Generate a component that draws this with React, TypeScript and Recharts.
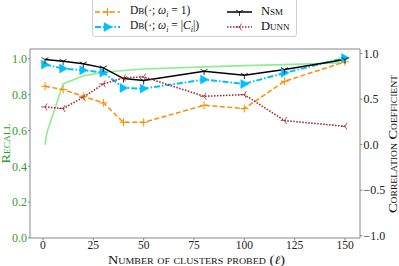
import React from 'react';
import { LineChart, Line, XAxis, YAxis, ReferenceLine } from 'recharts';

const probes = [1, 10, 20, 30, 40, 50, 80, 100, 120, 150];
const recallX = [1, 2, 10, 20, 30, 40, 50, 80, 100, 120, 150];
const recallVals = [0.52, 0.59, 0.86, 0.905, 0.925, 0.935, 0.943, 0.955, 0.962, 0.968, 0.978];
const dbOneVals = [0.641, 0.604, 0.531, 0.458, 0.245, 0.245, 0.432, 0.396, 0.696, 0.909];
const dbSizeVals = [0.879, 0.835, 0.817, 0.791, 0.623, 0.615, 0.714, 0.667, 0.788, 0.952];
const nsmVals = [0.934, 0.915, 0.887, 0.843, 0.725, 0.703, 0.806, 0.762, 0.824, 0.934];
const dunnVals = [0.414, 0.396, 0.52, 0.667, 0.733, 0.744, 0.531, 0.549, 0.264, 0.201];
const xTicks = [0, 25, 50, 75, 100, 125, 150];
const leftTicks = [0, 0.2, 0.4, 0.6, 0.8, 1.0];
const rightTicks = [-1, -0.5, 0, 0.5, 1];

const recallData = recallX.map((x, i) => ({ x, v: recallVals[i] }));
const mk = (vals: number[]) => probes.map((x, i) => ({ x, v: vals[i] }));
const dbOneData = mk(dbOneVals);
const dbSizeData = mk(dbSizeVals);
const nsmData = mk(nsmVals);
const dunnData = mk(dunnVals);

const ORANGE = '#ff8c00';
const BLUE = '#00bfff';
const DUNN = '#a0282a';
const GREEN_LINE = '#90ee90';
const GREEN_TEXT = '#2ca02c';
const SPINE = '#888888';
const FONT = '"Liberation Serif", "DejaVu Serif", serif';

const PlusM = ({ cx, cy, c }: any) => (
  <g stroke={c} strokeWidth={1}>
    <line x1={cx - 4} y1={cy} x2={cx + 4} y2={cy} />
    <line x1={cx} y1={cy - 4} x2={cx} y2={cy + 4} />
  </g>
);
const TriRight = ({ cx, cy, c }: any) => (
  <polygon points={`${cx + 4.5},${cy} ${cx - 3.5},${cy - 4.5} ${cx - 3.5},${cy + 4.5}`} fill={c} stroke={c} strokeWidth={0.5} />
);
const TriDown = ({ cx, cy, c }: any) => (
  <g stroke={c} strokeWidth={0.8}>
    <line x1={cx} y1={cy} x2={cx} y2={cy + 4} />
    <line x1={cx} y1={cy} x2={cx - 3.5} y2={cy - 2} />
    <line x1={cx} y1={cy} x2={cx + 3.5} y2={cy - 2} />
  </g>
);
const TriLeft = ({ cx, cy, c }: any) => (
  <g stroke={c} strokeWidth={0.8}>
    <line x1={cx} y1={cy} x2={cx - 4} y2={cy} />
    <line x1={cx} y1={cy} x2={cx + 2} y2={cy - 3.5} />
    <line x1={cx} y1={cy} x2={cx + 2} y2={cy + 3.5} />
  </g>
);

const fmt = (v: number) => (v < 0 ? '\u2212' + Math.abs(v).toFixed(1) : v.toFixed(1));

const tickStyle = { fontFamily: FONT, fontSize: 12 };

const Db = ({ sub }: { sub: React.ReactNode }) => (
  <span>
    D<span style={{ fontSize: 9 }}>B</span>(·; <i>ω</i>
    <sub style={{ fontSize: 8, fontStyle: 'italic' }}>i</sub> = {sub})
  </span>
);

const LegendSample = ({ kind }: { kind: string }) => {
  const w = 25;
  const y = 7;
  if (kind === 'one')
    return (
      <svg width={w} height={14}>
        <line x1={0} y1={y} x2={w} y2={y} stroke={ORANGE} strokeWidth={1.5} strokeDasharray="5,2.5" />
        <PlusM cx={w / 2} cy={y} c={ORANGE} />
      </svg>
    );
  if (kind === 'size')
    return (
      <svg width={w} height={14}>
        <line x1={0} y1={y} x2={w} y2={y} stroke={BLUE} strokeWidth={2} strokeDasharray="6,2,1.5,2" />
        <TriRight cx={w / 2} cy={y} c={BLUE} />
      </svg>
    );
  if (kind === 'nsm')
    return (
      <svg width={w} height={14}>
        <line x1={0} y1={y} x2={w} y2={y} stroke="#000" strokeWidth={1.5} />
        <TriDown cx={w / 2} cy={y} c="#000" />
      </svg>
    );
  return (
    <svg width={w} height={14}>
      <line x1={0} y1={y} x2={w} y2={y} stroke={DUNN} strokeWidth={1.5} strokeDasharray="1.5,1.5" />
      <TriLeft cx={w / 2} cy={y} c={DUNN} />
    </svg>
  );
};

export default function App() {
  return (
    <div style={{ position: 'absolute', left: 0, top: 0, width: 399, height: 266, background: '#fff', overflow: 'hidden' }}>
      <LineChart width={399} height={266} data={nsmData} margin={{ top: 49, right: 0, bottom: 0, left: 0 }}>
        <XAxis
          dataKey="x"
          type="number"
          domain={[-6.45, 157.45]}
          ticks={xTicks}
          allowDataOverflow
          height={28}
          tickSize={2.5}
          tickMargin={0.5}
          stroke={SPINE}
          tick={{ ...tickStyle, fontSize: 11.5, fill: '#222' }}
        />
        <YAxis
          yAxisId="left"
          orientation="left"
          domain={[0, 1.055]}
          ticks={leftTicks}
          allowDataOverflow
          width={30}
          tickSize={2}
          tickMargin={1}
          tickFormatter={fmt}
          stroke={SPINE}
          tick={{ ...tickStyle, fill: GREEN_TEXT }}
        />
        <YAxis
          yAxisId="right"
          orientation="right"
          domain={[-1.025, 1.05]}
          ticks={rightTicks}
          allowDataOverflow
          width={39}
          tickSize={2.5}
          tickMargin={1}
          tickFormatter={fmt}
          stroke={SPINE}
          tick={{ ...tickStyle, fill: '#222' }}
        />
        <ReferenceLine yAxisId="right" y={1.05} stroke={SPINE} strokeWidth={1} ifOverflow="visible" />
        <Line
          yAxisId="left"
          data={recallData}
          dataKey="v"
          stroke={GREEN_LINE}
          strokeWidth={1.6}
          dot={false}
          isAnimationActive={false}
        />
        <Line
          yAxisId="right"
          data={dbOneData}
          dataKey="v"
          stroke={ORANGE}
          strokeWidth={1.5}
          strokeDasharray="5,2.5"
          dot={(p: any) => <PlusM key={p.index} cx={p.cx} cy={p.cy} c={ORANGE} />}
          isAnimationActive={false}
        />
        <Line
          yAxisId="right"
          data={dbSizeData}
          dataKey="v"
          stroke={BLUE}
          strokeWidth={2}
          strokeDasharray="6,2,1.5,2"
          dot={(p: any) => <TriRight key={p.index} cx={p.cx} cy={p.cy} c={BLUE} />}
          isAnimationActive={false}
        />
        <Line
          yAxisId="right"
          data={nsmData}
          dataKey="v"
          stroke="#000"
          strokeWidth={1.5}
          dot={(p: any) => <TriDown key={p.index} cx={p.cx} cy={p.cy} c="#000" />}
          isAnimationActive={false}
        />
        <Line
          yAxisId="right"
          data={dunnData}
          dataKey="v"
          stroke={DUNN}
          strokeWidth={1.6}
          strokeDasharray="1.5,1.5"
          dot={(p: any) => <TriLeft key={p.index} cx={p.cx} cy={p.cy} c={DUNN} />}
          isAnimationActive={false}
        />
      </LineChart>

      {/* Legend */}
      <div
        style={{
          position: 'absolute',
          left: 92,
          top: -4,
          width: 205,
          height: 41,
          border: '1px solid #d0d0d0',
          borderRadius: 3,
          background: 'rgba(255,255,255,0.85)',
          fontFamily: FONT,
          fontSize: 11.5,
          color: '#111',
          boxSizing: 'border-box',
        }}
      >
        <div style={{ position: 'absolute', left: 2, top: 7, display: 'flex', alignItems: 'center', whiteSpace: 'nowrap' }}>
          <LegendSample kind="one" />
          <span style={{ marginLeft: 10 }}><Db sub="1" /></span>
        </div>
        <div style={{ position: 'absolute', left: 2, top: 22, display: 'flex', alignItems: 'center', whiteSpace: 'nowrap' }}>
          <LegendSample kind="size" />
          <span style={{ marginLeft: 10 }}><Db sub={<span>|<i>C</i><sub style={{ fontSize: 8, fontStyle: 'italic' }}>i</sub>|</span>} /></span>
        </div>
        <div style={{ position: 'absolute', left: 134, top: 7, display: 'flex', alignItems: 'center', whiteSpace: 'nowrap' }}>
          <LegendSample kind="nsm" />
          <span style={{ marginLeft: 9, fontVariant: 'small-caps', fontSize: 12.5 }}>Nsm</span>
        </div>
        <div style={{ position: 'absolute', left: 134, top: 22, display: 'flex', alignItems: 'center', whiteSpace: 'nowrap' }}>
          <LegendSample kind="dunn" />
          <span style={{ marginLeft: 9, fontVariant: 'small-caps', fontSize: 12.5 }}>Dunn</span>
        </div>
      </div>

      {/* Axis labels */}
      <svg
        width={399}
        height={266}
        style={{ position: 'absolute', left: 0, top: 0, pointerEvents: 'none' }}
      >
        <text
          x={196.5}
          y={263.5}
          textAnchor="middle"
          textLength={177}
          lengthAdjust="spacingAndGlyphs"
          fontFamily={FONT}
          fontSize={11.5}
          fill="#111"
          style={{ fontVariant: 'small-caps' }}
        >
          Number of clusters probed (<tspan fontStyle="italic">ℓ</tspan>)
        </text>
        <text
          transform="translate(9.5,143.5) rotate(-90)"
          x={0}
          y={0}
          textAnchor="middle"
          textLength={40}
          lengthAdjust="spacingAndGlyphs"
          fontFamily={FONT}
          fontSize={12}
          fill={GREEN_TEXT}
          style={{ fontVariant: 'small-caps' }}
        >
          Recall
        </text>
        <text
          transform="translate(397,144) rotate(-90)"
          x={0}
          y={0}
          textAnchor="middle"
          textLength={138}
          lengthAdjust="spacingAndGlyphs"
          fontFamily={FONT}
          fontSize={12}
          fill="#111"
          style={{ fontVariant: 'small-caps' }}
        >
          Correlation Coefficient
        </text>
      </svg>
    </div>
  );
}
